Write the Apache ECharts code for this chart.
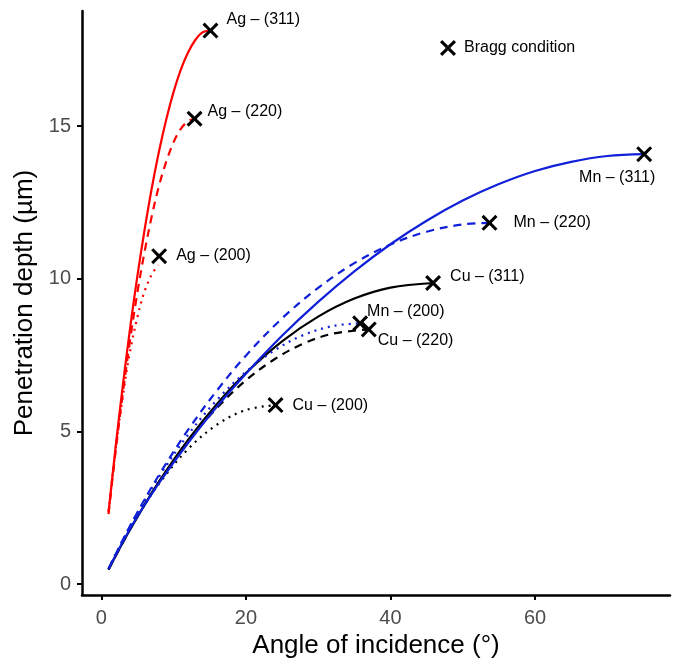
<!DOCTYPE html>
<html>
<head>
<meta charset="utf-8">
<script src="https://cdn.jsdelivr.net/npm/echarts@6/dist/echarts.min.js"></script>
<style>
html,body{margin:0;padding:0;background:#fff;}
#chart{width:678px;height:659px;}
</style>
</head>
<body>
<div id="chart"></div>
<script>
// ---- data ----
const xTicks = [0, 20, 40, 60];
const yTicks = [0, 5, 10, 15];

const ag311Angle = [1, 2, 3, 4, 5, 6, 7, 8, 9, 10, 11, 12, 13, 14, 15.1];
const ag311Depth = [2.35, 4.53, 6.55, 8.41, 10.10, 11.62, 12.99, 14.19, 15.23, 16.12, 16.85, 17.41, 17.82, 18.07, 18.13];
const ag220Angle = [1, 2, 3, 4, 5, 6, 7, 8, 9, 10, 11, 12, 12.9];
const ag220Depth = [2.29, 4.38, 6.29, 8.02, 9.56, 10.90, 12.07, 13.06, 13.85, 14.47, 14.91, 15.16, 15.24];
const ag200Angle = [1, 2, 3, 4, 5, 6, 7, 7.9];
const ag200Depth = [2.40, 4.45, 6.20, 7.65, 8.75, 9.60, 10.15, 10.45];

const mn311Angle = [1, 3, 5, 8, 12, 16, 20, 25, 30, 35, 40, 45, 50, 55, 60, 65, 70, 75.1];
const mn311Depth = [0.49, 1.39, 2.21, 3.31, 4.62, 5.81, 6.89, 8.13, 9.24, 10.24, 11.13, 11.90, 12.56, 13.10, 13.53, 13.83, 14.02, 14.08];
const mn220Angle = [1, 3, 5, 8, 12, 16, 20, 25, 30, 35, 40, 45, 50, 53.7];
const mn220Depth = [0.50, 1.46, 2.35, 3.58, 5.05, 6.34, 7.48, 8.70, 9.70, 10.51, 11.12, 11.54, 11.78, 11.83];
const mn200Angle = [1, 3, 5, 8, 12, 16, 20, 24, 28, 32, 35.8];
const mn200Depth = [0.50, 1.45, 2.33, 3.52, 4.89, 6.03, 6.95, 7.66, 8.16, 8.45, 8.54];

const cu311Angle = [1, 3, 5, 8, 12, 16, 20, 25, 30, 35, 40, 45.9];
const cu311Depth = [0.47, 1.37, 2.20, 3.36, 4.72, 5.90, 6.91, 7.95, 8.76, 9.35, 9.71, 9.86];
const cu220Angle = [1, 3, 5, 8, 12, 16, 20, 24, 28, 32, 37.0];
const cu220Depth = [0.48, 1.37, 2.21, 3.35, 4.67, 5.77, 6.67, 7.37, 7.88, 8.20, 8.34];
const cu200Angle = [1, 3, 5, 8, 12, 16, 20, 24.1];
const cu200Depth = [0.49, 1.40, 2.22, 3.29, 4.42, 5.22, 5.70, 5.86];

const braggAngle = [15.1, 12.9, 8.0, 75.1, 53.7, 45.9, 35.8, 37.0, 24.1];
const braggDepth = [18.13, 15.24, 10.74, 14.08, 11.83, 9.86, 8.54, 8.34, 5.86];
const braggLabels = ['Ag – (311)', 'Ag – (220)', 'Ag – (200)', 'Mn – (311)', 'Mn – (220)', 'Cu – (311)', 'Mn – (200)', 'Cu – (220)', 'Cu – (200)'];

// ---- styling (not data) ----
const FONT = 'Liberation Sans, Arial, sans-serif';
const RED = '#ff0000', BLUE = '#1020d8', BLACK = '#000000';
const SOLID = 'solid', DASH = [8, 6], DOT = [2, 5];
const CROSS = 'path://M0,1.35L1.35,0L5,3.65L8.65,0L10,1.35L6.35,5L10,8.65L8.65,10L5,6.35L1.35,10L0,8.65L3.65,5Z';
const SYM = 16;
// label offsets (pixels from marker centre) and alignment
const labelLayout = [
  [16, -11, 'left'], [13, -7, 'left'], [17, -1, 'left'],
  [-27, 23, 'center'], [24, 0, 'left'], [17, -6, 'left'],
  [7, -12, 'left'], [9, 11, 'left'], [17, 0, 'left']
];

function zip(a, b) { return a.map((v, i) => [v, b[i]]); }
function curve(name, ax, dp, color, type) {
  return {
    name: name, type: 'line', data: zip(ax, dp), smooth: 0.35,
    showSymbol: false, symbol: 'none', silent: true,
    lineStyle: { color: color, width: 2.2, type: type },
    z: 2
  };
}

const series = [
  curve('Cu311', cu311Angle, cu311Depth, BLACK, SOLID),
  curve('Cu220', cu220Angle, cu220Depth, BLACK, DASH),
  curve('Cu200', cu200Angle, cu200Depth, BLACK, DOT),
  curve('Mn311', mn311Angle, mn311Depth, BLUE, SOLID),
  curve('Mn220', mn220Angle, mn220Depth, BLUE, DASH),
  curve('Mn200', mn200Angle, mn200Depth, BLUE, DOT),
  curve('Ag311', ag311Angle, ag311Depth, RED, SOLID),
  curve('Ag220', ag220Angle, ag220Depth, RED, DASH),
  curve('Ag200', ag200Angle, ag200Depth, RED, DOT),
  {
    name: 'Bragg condition', type: 'scatter', symbol: CROSS, symbolSize: SYM,
    itemStyle: { color: BLACK, opacity: 1 },
    z: 5,
    data: braggAngle.map((x, i) => ({
      value: [x, braggDepth[i]],
      name: braggLabels[i],
      label: {
        show: true,
        formatter: braggLabels[i],
        position: [SYM / 2 + labelLayout[i][0], SYM / 2 + labelLayout[i][1]],
        align: labelLayout[i][2],
        verticalAlign: 'middle',
        fontFamily: FONT, fontSize: 16, color: '#000'
      }
    }))
  }
];

const chart = echarts.init(document.getElementById('chart'), null, { renderer: 'canvas' });
chart.setOption({
  animation: false,
  backgroundColor: '#ffffff',
  textStyle: { fontFamily: FONT },
  grid: { left: 82, right: 8, top: 11, bottom: 64, containLabel: false, outerBoundsMode: 'none' },
  legend: {
    data: [{ name: 'Bragg condition', icon: CROSS, itemStyle: { color: '#000', opacity: 1 } }],
    left: 435, top: 35, itemWidth: 22, itemHeight: 16,
    selectedMode: false,
    textStyle: { fontFamily: FONT, fontSize: 16, color: '#000' }
  },
  xAxis: {
    type: 'value', min: -2.67, max: 78.67,
    name: 'Angle of incidence (°)', nameLocation: 'middle', nameGap: 38,
    nameTextStyle: { fontFamily: FONT, fontSize: 26, color: '#000' },
    splitLine: { show: false },
    axisLine: { show: true, onZero: false, lineStyle: { color: '#000', width: 2.5 } },
    axisTick: { show: true, customValues: xTicks, length: 5, lineStyle: { color: '#000', width: 2 } },
    axisLabel: { customValues: xTicks, fontFamily: FONT, fontSize: 20, color: '#4d4d4d', margin: 13 }
  },
  yAxis: {
    type: 'value', min: -0.36, max: 18.77,
    name: 'Penetration depth (µm)', nameLocation: 'middle', nameGap: 35,
    nameTextStyle: { fontFamily: FONT, fontSize: 26, color: '#000' },
    splitLine: { show: false },
    axisLine: { show: true, onZero: false, lineStyle: { color: '#000', width: 2.5 } },
    axisTick: { show: true, customValues: yTicks, length: 5, lineStyle: { color: '#000', width: 2 } },
    axisLabel: { customValues: yTicks, fontFamily: FONT, fontSize: 20, color: '#4d4d4d', margin: 11 }
  },
  series: series
});
</script>
</body>
</html>
